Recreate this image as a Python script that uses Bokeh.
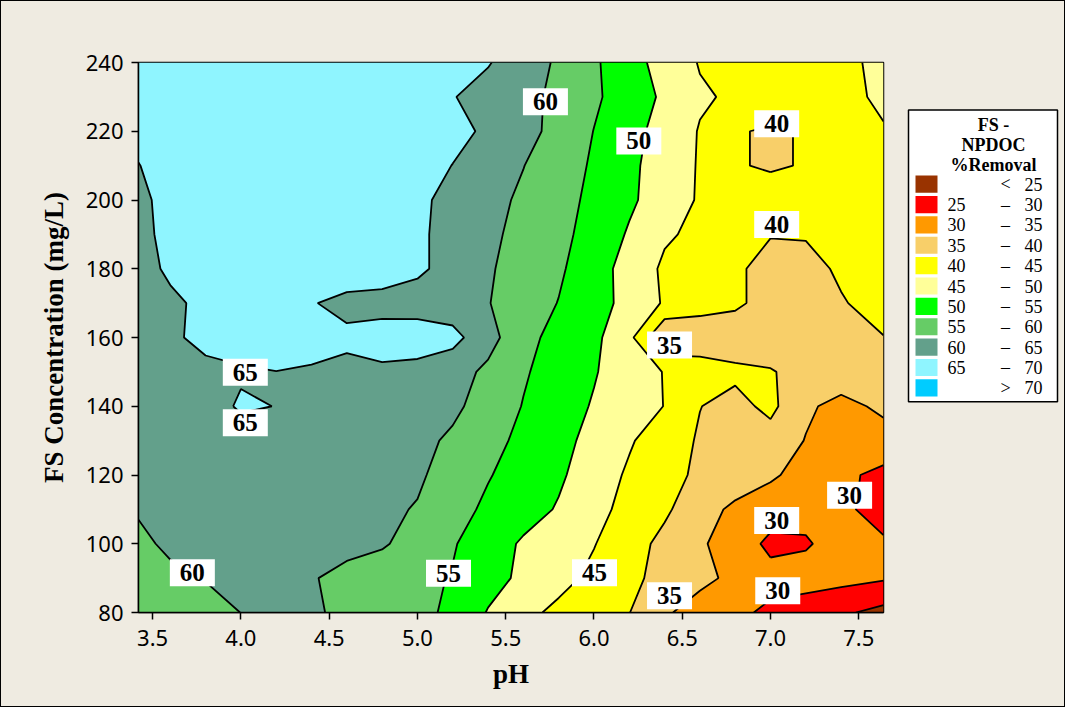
import numpy as np
from bokeh.plotting import figure
from bokeh.layouts import row
from bokeh.models import Range1d, FixedTicker, NumeralTickFormatter
from bokeh.core.properties import value
from bokeh.embed import file_html
from bokeh.resources import INLINE

# ---------------- data ----------------
ph = [3.42, 3.6, 3.8, 4.0, 4.2, 4.4, 4.6, 4.8, 5.0, 5.2, 5.4,
      5.6, 5.8, 6.0, 6.2, 6.4, 6.6, 6.8, 7.0, 7.2, 7.4, 7.64]
fs_conc = [80, 90, 100, 110, 120, 130, 140, 150, 160, 170, 180,
           190, 200, 210, 220, 230, 240]

removal_fs80 = [58.5, 58.6, 59.2, 60.02, 60.8, 60.5, 59.2, 57.7, 56.2, 54.1, 49.7, 46.3, 43.9, 42.0, 40.1, 35.6, 33.1, 31.0, 29.1, 27.5, 25.8, 23.5]
removal_fs90 = [58.5, 59.3, 60.1, 61.0, 61.2, 60.3, 58.8, 57.5, 56.2, 54.7, 51.8, 49.0, 46.5, 43.9, 41.1, 38.5, 36.1, 34.0, 31.5, 32.0, 31.5, 30.5]
removal_fs100 = [59.3, 60.6, 61.2, 61.5, 61.7, 61.7, 61.2, 60.5, 58.2, 55.4, 52.3, 49.4, 47.3, 45.2, 42.0, 38.7, 35.7, 32.5, 29.0, 29.5, 32.0, 30.5]
removal_fs110 = [60.3, 60.4, 60.8, 61.2, 61.5, 61.5, 61.2, 60.9, 59.7, 56.8, 54.1, 51.9, 49.6, 46.5, 43.5, 40.8, 37.0, 34.0, 32.0, 31.5, 30.8, 28.5]
removal_fs120 = [60.5, 61.0, 61.5, 62.0, 62.2, 62.2, 62.0, 61.5, 60.7, 58.0, 55.3, 53.0, 50.7, 47.6, 44.3, 41.5, 39.2, 37.8, 35.8, 33.0, 31.0, 28.8]
removal_fs130 = [61.0, 61.5, 61.8, 62.2, 63.0, 63.0, 62.8, 62.3, 61.3, 59.2, 56.5, 53.9, 51.4, 48.6, 45.5, 42.4, 39.5, 38.5, 38.0, 34.8, 32.5, 33.0]
removal_fs140 = [61.5, 62.5, 62.5, 65.7, 64.9, 64.3, 64.0, 63.5, 62.5, 61.0, 57.9, 54.8, 52.2, 49.6, 47.2, 44.9, 40.1, 38.5, 41.2, 35.8, 33.5, 36.0]
removal_fs150 = [62.0, 63.0, 64.0, 64.3, 64.95, 64.6, 63.8, 64.2, 63.5, 62.0, 59.0, 55.5, 52.9, 50.35, 47.4, 44.8, 42.0, 41.0, 40.3, 38.5, 38.0, 37.5]
removal_fs160 = [62.3, 64.3, 66.1, 67.9, 67.0, 66.5, 66.0, 67.0, 67.5, 66.5, 61.8, 56.5, 53.4, 51.1, 46.4, 34.8, 37.5, 37.2, 37.5, 38.3, 39.2, 39.9]
removal_fs170 = [62.5, 64.0, 66.2, 67.0, 67.0, 65.3, 63.6, 63.3, 62.8, 62.2, 60.2, 57.4, 54.86, 51.9, 48.5, 44.5, 41.5, 40.8, 38.3, 38.0, 39.7, 41.5]
removal_fs180 = [63.0, 65.9, 67.5, 68.0, 68.5, 68.5, 68.0, 67.5, 65.9, 63.2, 60.5, 58.1, 55.7, 52.2, 48.1, 44.2, 42.0, 40.7, 38.5, 38.7, 40.6, 42.0]
removal_fs190 = [63.5, 66.5, 68.0, 68.5, 68.5, 68.5, 68.0, 67.5, 65.8, 63.4, 61.0, 58.6, 56.3, 53.2, 49.5, 45.6, 44.0, 42.0, 40.2, 40.3, 41.0, 42.0]
removal_fs200 = [64.0, 66.4, 68.0, 68.5, 69.0, 68.5, 68.0, 67.5, 65.9, 63.7, 61.5, 59.2, 56.7, 53.9, 50.8, 47.6, 44.5, 42.5, 43.0, 42.5, 42.5, 43.0]
removal_fs210 = [64.9, 66.5, 68.0, 68.5, 69.0, 69.0, 68.5, 68.0, 67.3, 64.9, 62.5, 60.1, 57.3, 54.4, 51.0, 47.8, 44.6, 40.5, 39.3, 40.4, 42.5, 43.5]
removal_fs220 = [66.0, 67.5, 68.5, 69.0, 69.0, 69.0, 69.0, 68.5, 68.0, 66.6, 64.1, 61.5, 58.6, 54.9, 51.6, 48.2, 44.7, 40.5, 39.3, 40.4, 43.5, 44.8]
removal_fs230 = [66.5, 68.0, 68.5, 69.0, 69.0, 69.0, 69.0, 68.5, 67.5, 65.2, 63.3, 61.3, 59.0, 55.8, 52.5, 49.2, 45.6, 44.3, 44.0, 43.5, 44.2, 45.5]
removal_fs240 = [66.0, 68.0, 68.5, 69.0, 69.0, 69.0, 69.0, 68.5, 68.0, 67.0, 65.3, 62.4, 59.3, 55.7, 51.9, 48.1, 44.7, 43.8, 43.3, 43.5, 44.4, 45.6]

levels = [20, 25, 30, 35, 40, 45, 50, 55, 60, 65, 70, 75]
band_colors = ["#993300", "#FF0000", "#FF9900", "#F8CF69", "#FFFF00", "#FFFF99",
               "#00FF00", "#66CC66", "#63A08B", "#8FF5FF", "#00CCFF"]
legend_low = ["", "25", "30", "35", "40", "45", "50", "55", "60", "65", ""]
legend_mid = ["<", "\u2013", "\u2013", "\u2013", "\u2013", "\u2013", "\u2013", "\u2013", "\u2013", "\u2013", ">"]
legend_high = ["25", "30", "35", "40", "45", "50", "55", "60", "65", "70", "70"]

label_text = ["60", "65", "65", "55", "45", "35", "30", "30", "30", "35", "40", "40", "50", "60"]
label_ph = [3.725, 4.025, 4.025, 5.176, 6.003, 6.428, 7.041, 7.035, 7.448, 6.428, 7.035, 7.035, 6.254, 5.725]
label_fs = [91.6, 149.9, 135.2, 91.4, 91.6, 84.9, 86.3, 106.8, 114.1, 157.8, 192.9, 222.2, 217.2, 228.6]

x_ticks = [3.5, 4.0, 4.5, 5.0, 5.5, 6.0, 6.5, 7.0, 7.5]
y_ticks = [80, 100, 120, 140, 160, 180, 200, 220, 240]

z = np.array([removal_fs80, removal_fs90, removal_fs100, removal_fs110, removal_fs120,
              removal_fs130, removal_fs140, removal_fs150, removal_fs160, removal_fs170,
              removal_fs180, removal_fs190, removal_fs200, removal_fs210, removal_fs220,
              removal_fs230, removal_fs240])

BG = "#EFEBE1"
SERIF = value("Liberation Serif")

# ---------------- main contour plot ----------------
p = figure(frame_width=745, frame_height=550,
           x_range=Range1d(3.42, 7.64), y_range=Range1d(80, 240),
           output_backend="svg", toolbar_location=None,
           min_border_left=137, min_border_right=20,
           min_border_top=61, min_border_bottom=94)
p.background_fill_color = BG
p.border_fill_color = BG
p.grid.visible = False
p.outline_line_color = "black"
p.outline_line_width = 1.5

p.contour(x=ph, y=fs_conc, z=z, levels=levels,
          fill_color=band_colors, line_color="black", line_width=1.8)

p.rect(x=label_ph, y=label_fs, width=45, height=27,
       width_units="screen", height_units="screen",
       fill_color="white", line_color=None)
p.text(x=label_ph, y=label_fs, text=label_text,
       text_font=SERIF, text_font_style="bold", text_font_size="25px",
       text_align="center", text_baseline="middle", text_color="black")

p.xaxis.ticker = FixedTicker(ticks=x_ticks)
p.xaxis.formatter = NumeralTickFormatter(format="0.0")
p.yaxis.ticker = FixedTicker(ticks=y_ticks)
for ax in (p.xaxis[0], p.yaxis[0]):
    ax.axis_line_color = "black"
    ax.axis_line_width = 1.5
    ax.major_tick_line_color = "black"
    ax.major_tick_line_width = 1.5
    ax.major_tick_out = 7
    ax.major_tick_in = 0
    ax.minor_tick_line_color = None
    ax.major_label_text_font = "Noto Sans"
    ax.major_label_text_font_size = "22px"
    ax.major_label_text_color = "black"
    ax.axis_label_text_font = "Liberation Serif"
    ax.axis_label_text_font_style = "bold"
    ax.axis_label_text_font_size = "27px"
    ax.axis_label_text_color = "black"
p.xaxis.axis_label = "pH"
p.yaxis.axis_label = "FS Concentration (mg/L)"
p.xaxis.major_label_standoff = 10
p.yaxis.major_label_standoff = 8
p.xaxis.axis_label_standoff = 10
p.yaxis.axis_label_standoff = 14

# ---------------- legend panel ----------------
H = 705
q = figure(width=161, height=H, x_range=Range1d(0, 161), y_range=Range1d(H, 0),
           output_backend="svg", toolbar_location=None,
           x_axis_location=None, y_axis_location=None, min_border=0)
q.grid.visible = False
q.outline_line_color = None
q.background_fill_color = BG
q.border_fill_color = BG

q.quad(left=[5], right=[154], top=[61], bottom=[435],
       fill_color="white", line_color="black", line_width=1.5)
q.text(x=[90, 90, 90], y=[80, 106, 132], text=["FS -", "NPDOC", "%Removal"],
       text_font=SERIF, text_font_style="bold", text_font_size="18px",
       text_align="center", text_baseline="middle", text_color="black")

rows_y = [156 + 26.1 * i for i in range(len(band_colors))]
q.quad(left=[12] * len(rows_y), right=[34] * len(rows_y),
       top=[yy - 11 for yy in rows_y], bottom=[yy + 11 for yy in rows_y],
       fill_color=band_colors, line_color=None)
q.text(x=[53] * len(rows_y), y=rows_y, text=legend_low, text_font=SERIF,
       text_font_size="18px", text_align="center", text_baseline="middle", text_color="black")
q.text(x=[102] * len(rows_y), y=rows_y, text=legend_mid, text_font=SERIF,
       text_font_size="18px", text_align="center", text_baseline="middle", text_color="black")
q.text(x=[130] * len(rows_y), y=rows_y, text=legend_high, text_font=SERIF,
       text_font_size="18px", text_align="center", text_baseline="middle", text_color="black")

layout = row(p, q, styles={"border": "1px solid black", "background-color": BG})

html = file_html(layout, INLINE)
html = html.replace("<body>", '<body style="background-color:%s">' % BG, 1)
open("out.html", "w").write(html)
